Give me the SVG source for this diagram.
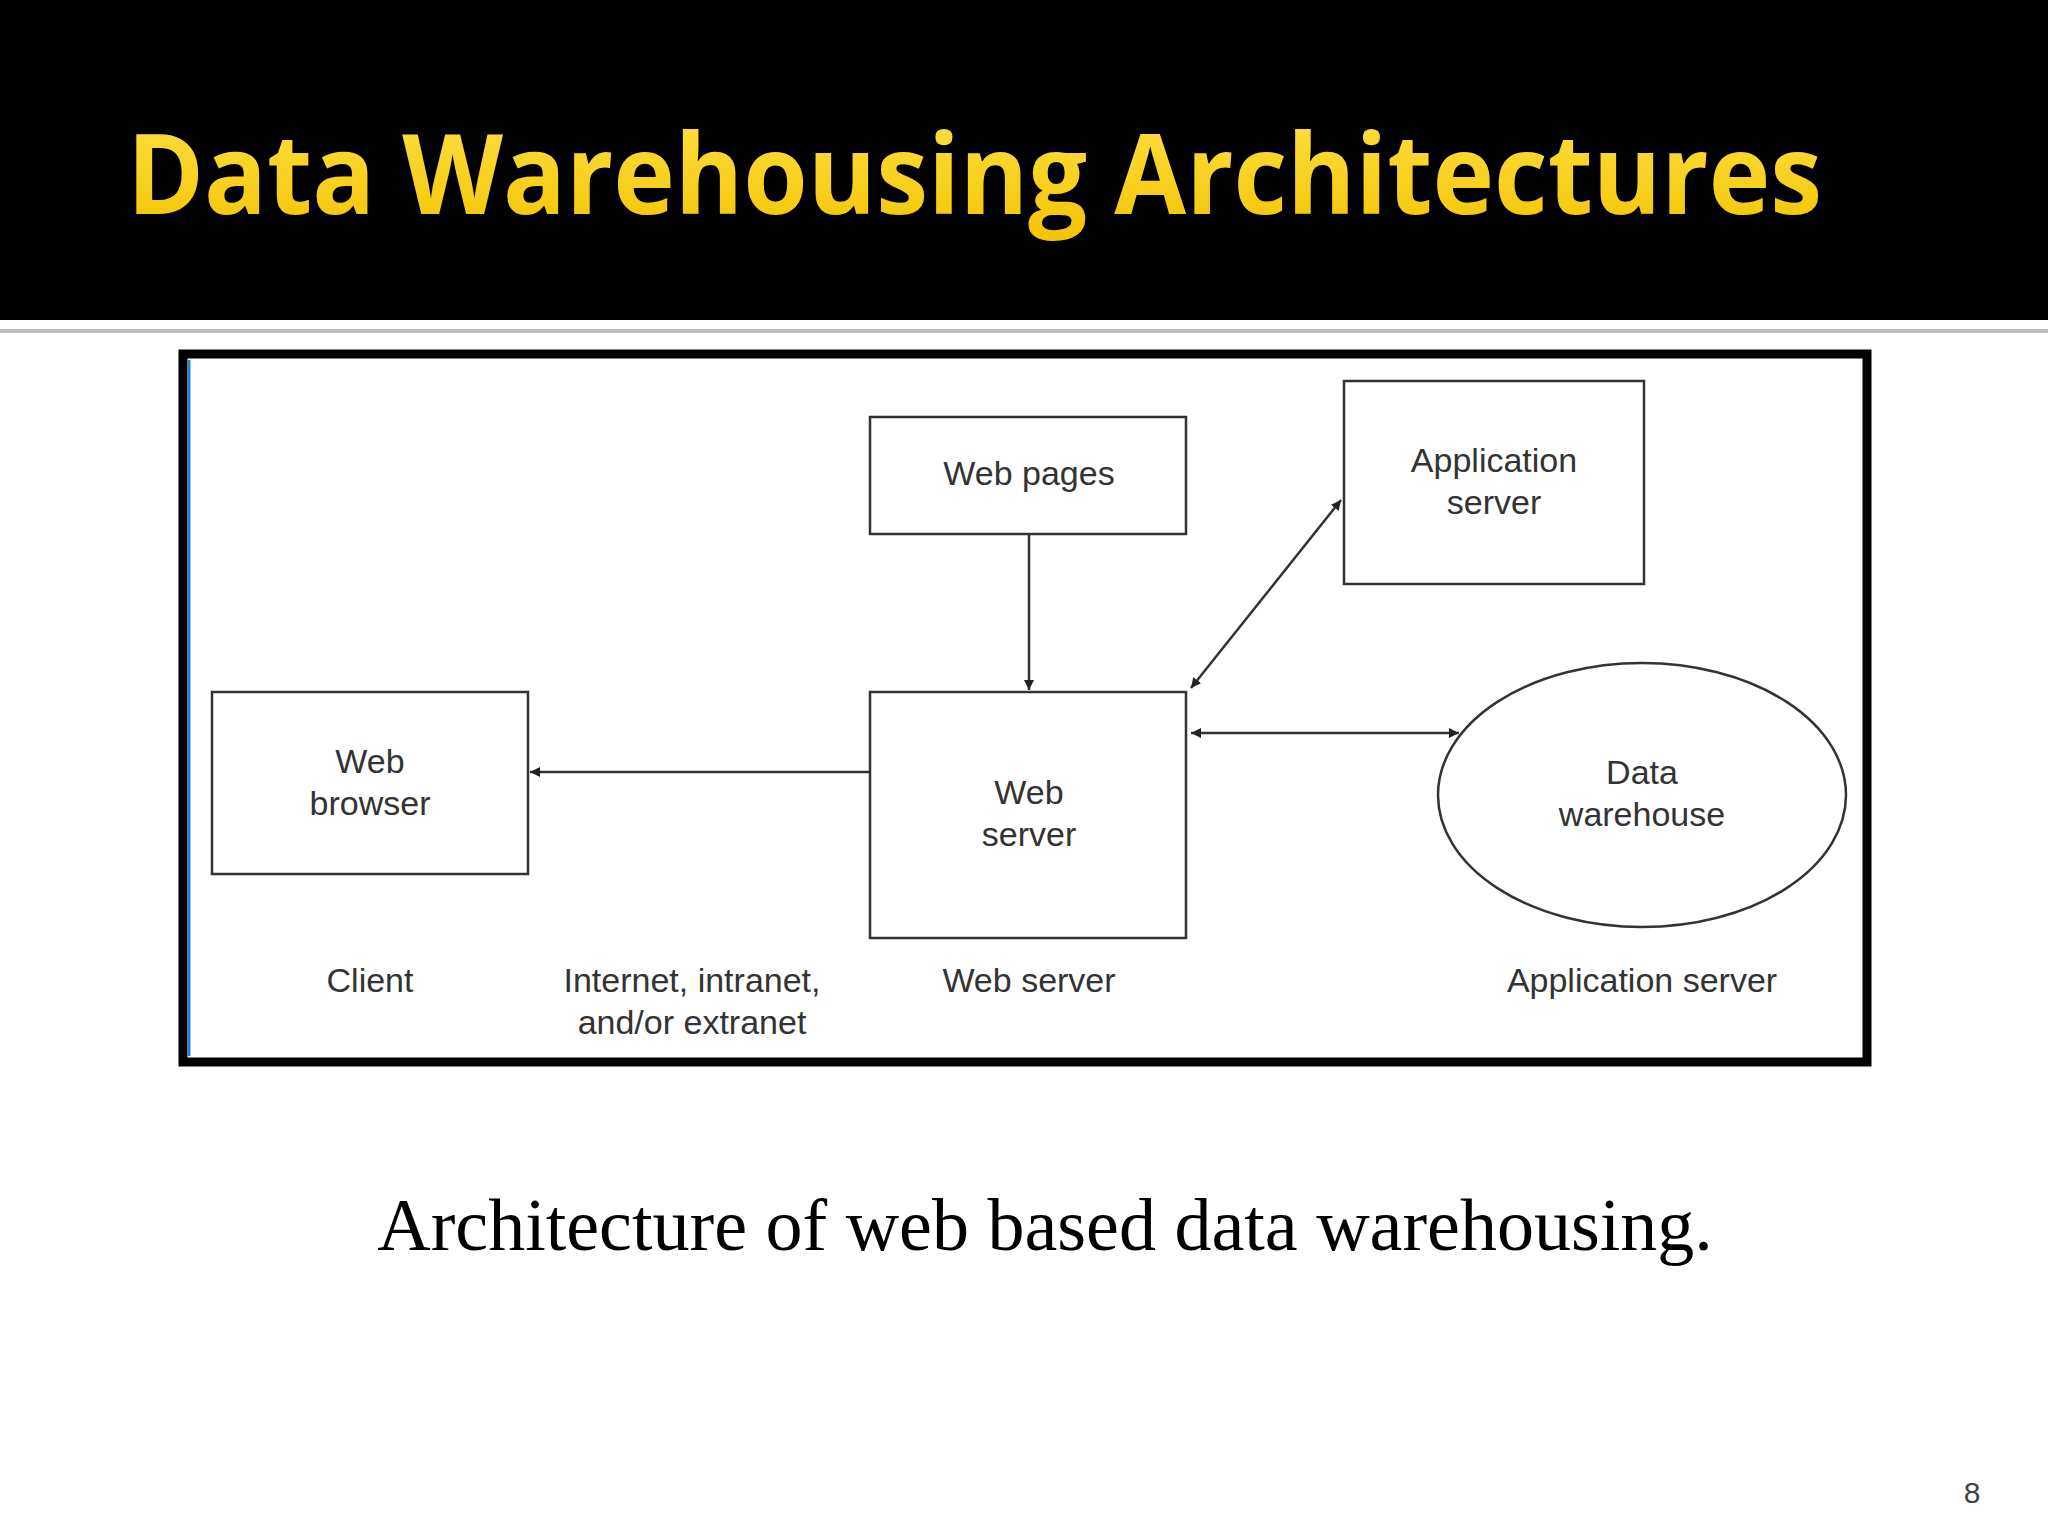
<svg xmlns="http://www.w3.org/2000/svg" width="2048" height="1536" viewBox="0 0 2048 1536">
<defs>
<marker id="ah" viewBox="0 0 10 10" refX="10" refY="5" markerWidth="10" markerHeight="10" markerUnits="userSpaceOnUse" orient="auto-start-reverse"><path d="M0,0 L10,5 L0,10 z" fill="#222"/></marker>
<linearGradient id="yg" x1="0" y1="0" x2="0" y2="1"><stop offset="0" stop-color="#FFE34A"/><stop offset="1" stop-color="#F2C200"/></linearGradient>
</defs>
<style>
.box{fill:#fff;stroke:#333;stroke-width:2.5}
.t{font-family:"Liberation Sans",Arial,sans-serif;font-size:34px;fill:#333;text-anchor:middle}
.c{stroke:#333;stroke-width:2.5;fill:none}
</style>
<rect width="2048" height="1536" fill="#fff"/>
<rect width="2048" height="320" fill="#000"/>
<rect y="329" width="2048" height="4" fill="#bbb"/>
<text x="127" y="214" font-family="'Open Sans','Noto Sans',sans-serif" font-weight="bold" font-size="112" fill="url(#yg)" textLength="1695" lengthAdjust="spacingAndGlyphs">Data Warehousing Architectures</text>
<rect x="183" y="354" width="1684" height="708" fill="#fff" stroke="#000" stroke-width="9"/>
<line x1="189" y1="360" x2="189" y2="1056" stroke="#2a7fd4" stroke-width="3"/>
<g id="webpages"><rect class="box" x="870" y="417" width="316" height="117"/><text class="t" x="1029" y="485">Web pages</text></g>
<g id="appserver"><rect class="box" x="1344" y="381" width="300" height="203"/><text class="t" x="1494" y="472">Application</text><text class="t" x="1494" y="514">server</text></g>
<g id="webbrowser"><rect class="box" x="212" y="692" width="316" height="182"/><text class="t" x="370" y="773">Web</text><text class="t" x="370" y="815">browser</text></g>
<g id="webserver"><rect class="box" x="870" y="692" width="316" height="246"/><text class="t" x="1029" y="804">Web</text><text class="t" x="1029" y="846">server</text></g>
<g id="datawarehouse"><ellipse class="box" cx="1642" cy="795" rx="204" ry="132"/><text class="t" x="1642" y="784">Data</text><text class="t" x="1642" y="826">warehouse</text></g>
<g id="connectors">
<line class="c" x1="1029" y1="534" x2="1029" y2="690" marker-end="url(#ah)"/>
<line class="c" x1="870" y1="772" x2="530" y2="772" marker-end="url(#ah)"/>
<line class="c" x1="1191" y1="688" x2="1341" y2="500" marker-start="url(#ah)" marker-end="url(#ah)"/>
<line class="c" x1="1191" y1="733" x2="1459" y2="733" marker-start="url(#ah)" marker-end="url(#ah)"/>
</g>
<g id="labels">
<text class="t" x="370" y="992">Client</text>
<text class="t" x="692" y="992">Internet, intranet,</text>
<text class="t" x="692" y="1034">and/or extranet</text>
<text class="t" x="1029" y="992">Web server</text>
<text class="t" x="1642" y="992">Application server</text>
</g>
<text x="1045" y="1250" font-family="'Liberation Serif','Times New Roman',serif" font-size="74" fill="#000" text-anchor="middle">Architecture of web based data warehousing.</text>
<text x="1972" y="1503" font-family="'Liberation Sans',Arial,sans-serif" font-size="30" fill="#444" text-anchor="middle">8</text>
</svg>
